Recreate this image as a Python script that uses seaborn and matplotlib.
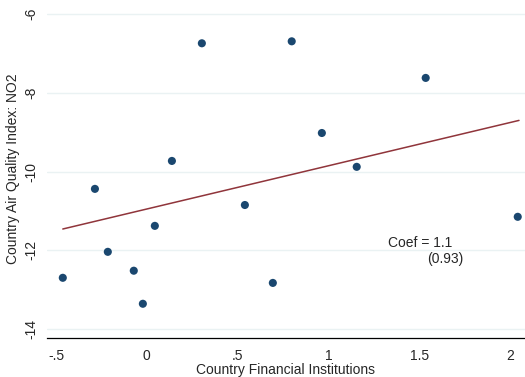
import matplotlib
matplotlib.use("Agg")
import matplotlib.pyplot as plt
import seaborn as sns
import numpy as np
import pandas as pd

fin = [-0.463, -0.286, -0.215, -0.072, -0.022, 0.044, 0.138, 0.303, 0.540, 0.694, 0.798, 0.964, 1.156, 1.536, 2.043]
no2 = [-12.70, -10.44, -12.04, -12.52, -13.36, -11.38, -9.73, -6.74, -10.85, -12.83, -6.69, -9.02, -9.88, -7.62, -11.15]
# fitted line shown in the chart (endpoints)
fit_x = [-0.463, 2.05]
fit_y = [-11.46, -8.70]
xticks = [-0.5, 0, 0.5, 1, 1.5, 2]
xticklabels = ["-.5", "0", ".5", "1", "1.5", "2"]
yticks = [-6, -8, -10, -12, -14]
yticklabels = ["-6", "-8", "-10", "-12", "-14"]
coef_text = "Coef = 1.1"
se_text = "(0.93)"

df = pd.DataFrame({"fin": fin, "no2": no2})
fit_df = pd.DataFrame({"x": fit_x, "y": fit_y})

sns.set_style("white")
plt.rcParams['font.family'] = ['Liberation Sans', 'DejaVu Sans']

fig = plt.figure(figsize=(5.25, 3.77), dpi=100)
ax = fig.add_axes([47/525, 1-338/377, (525-47)/525, 338/377])

for t in yticks:
    ax.axhline(t, color="#eaf2f3", lw=1.0, zorder=0)

sns.lineplot(data=fit_df, x="x", y="y", color="#90353b", lw=1.1, ax=ax, zorder=2)
sns.scatterplot(data=df, x="fin", y="no2", color="#1a476f", s=34, edgecolor="none", ax=ax, zorder=3)

ax.text(388, 377-243, coef_text, transform=None, fontsize=10, va="center", ha="left")
ax.text(427, 377-259, se_text, transform=None, fontsize=10, va="center", ha="left")

ax.set_xlim(-0.55, 2.083)
ax.set_ylim(-14.23, -5.64)
ax.set_xticks(xticks)
ax.set_xticklabels(xticklabels, fontsize=10)
ax.set_yticks(yticks)
ax.set_yticklabels(yticklabels, fontsize=10, rotation=90, va="center")
ax.tick_params(axis="x", length=5, width=0.8, color="black", direction="out", pad=3)
ax.tick_params(axis="y", length=5, width=0.8, color="black", direction="out", pad=1)
ax.set_xlabel("Country Financial Institutions", fontsize=10, labelpad=0)
ax.set_ylabel("Country Air Quality Index: NO2", fontsize=10)
ax.yaxis.set_label_coords(-0.056, 0.5)
for s in ["top", "right", "left"]:
    ax.spines[s].set_visible(False)
ax.spines["bottom"].set_color("black")
ax.spines["bottom"].set_linewidth(0.9)

fig.savefig("out.png", dpi=100)
